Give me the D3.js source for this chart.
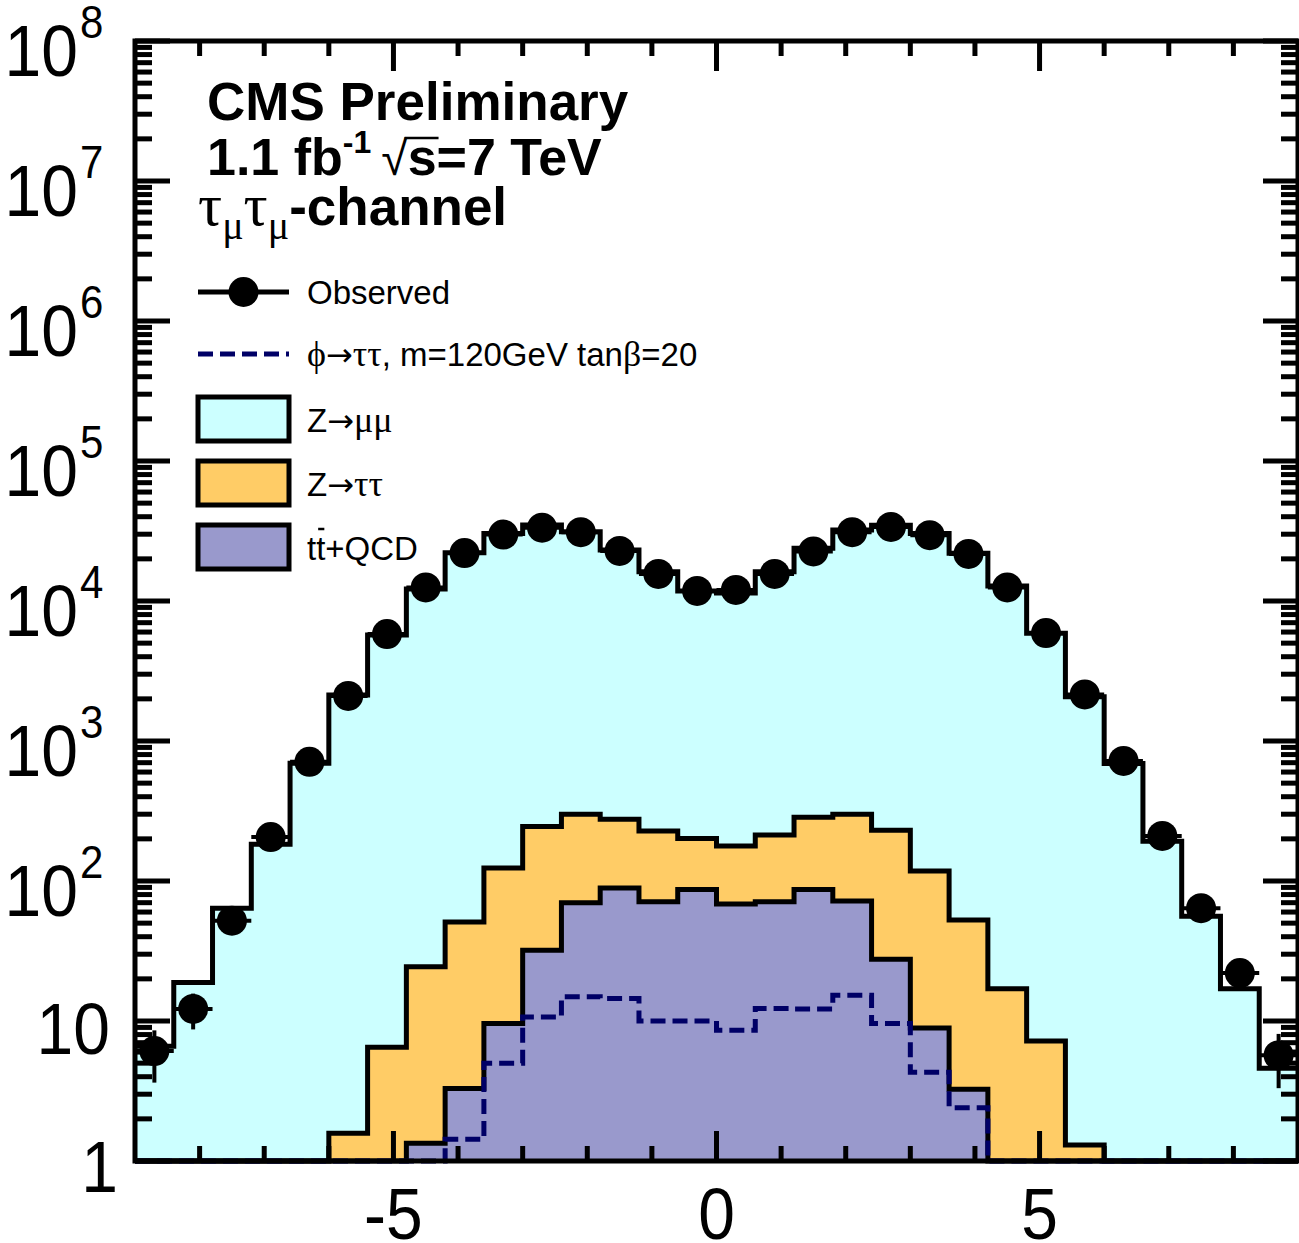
<!DOCTYPE html>
<html>
<head>
<meta charset="utf-8">
<script src="https://cdn.jsdelivr.net/npm/d3@7"></script>
<style>
  body { margin: 0; background: #fff; }
  text { font-family: "Liberation Sans", Arial, sans-serif; }
</style>
</head>
<body>
<div id="chart"></div>
<script>
// 30 bins from -9 to 9
var xMin = -9, xMax = 9, nBins = 30;

// observed events per bin
var observed = [6.1, 12.2, 52, 206, 710, 2100, 5800, 12500, 22000, 29800,
                33400, 31000, 22800, 15600, 11800, 12000, 15600, 22600, 31000, 33800,
                29500, 21700, 12500, 5900, 2150, 720, 210, 64, 22, 5.7];

// stacked backgrounds (per component, not cumulative)
var zmumu = [6.6, 18.8, 64, 183, 694, 2128, 5704, 12176, 22050, 30280,
             34650, 30900, 22820, 15970, 11600, 11220, 15990, 23520, 31800, 34570,
             30280, 21850, 12780, 5873, 2069, 690, 192, 56, 17, 4.6];
var ztautau = [0, 0, 0, 0, 0, 1.58, 6.5, 23.1, 47.7, 114,
               213, 230, 187, 157, 114, 109.5, 142, 198, 228, 203,
               109, 49.5, 17, 7.2, 1.3, 0, 0, 0, 0, 0];
var ttQCD = [0, 0, 0, 0, 0, 0, 0, 1.34, 3.3, 9.6,
             32, 70, 89, 71, 87, 68.5, 71, 87, 72, 27.6,
             8.9, 3.25, 0, 0, 0, 0, 0, 0, 0, 0];

// phi -> tautau, m=120 GeV, tanb=20
var signal = [0, 0, 0, 0, 0, 0, 0, 0, 1.43, 5.0,
              10.7, 14.9, 14.5, 10.0, 10.0, 8.6, 12.3, 12.2, 15.3, 9.6,
              4.3, 2.4, 0, 0, 0, 0, 0, 0, 0, 0];

var yTickExponents = [0, 1, 2, 3, 4, 5, 6, 7, 8];
var xTickLabels = [-5, 0, 5];

var width = 1299, height = 1243;
var padLeft = 135, padRight = 1298, padTop = 41, padBottom = 1161;

var binEdges = d3.range(nBins + 1).map(function(i) { return xMin + i * (xMax - xMin) / nBins; });

var svg = d3.select("#chart").append("svg")
    .attr("width", width)
    .attr("height", height);

var x = d3.scaleLinear().domain([xMin, xMax]).range([padLeft, padRight]);
var y = d3.scaleLog().domain([1, 1e8]).range([padBottom, padTop]).clamp(true);

function yv(v) { return y(Math.max(v, 0.01)); }

// step points for a histogram
function stepPoints(vals) {
    var pts = [];
    vals.forEach(function(v, i) {
        pts.push([binEdges[i], v]);
        pts.push([binEdges[i + 1], v]);
    });
    return pts;
}

var line = d3.line().x(function(d) { return x(d[0]); }).y(function(d) { return yv(d[1]); });
var area = d3.area().x(function(d) { return x(d[0]); }).y0(padBottom).y1(function(d) { return yv(d[1]); });

// stack the backgrounds
var rows = d3.range(nBins).map(function(i) {
    return { ttQCD: ttQCD[i], ztautau: ztautau[i], zmumu: zmumu[i] };
});
var keys = ["ttQCD", "ztautau", "zmumu"];
var colors = { ttQCD: "#9999cc", ztautau: "#ffcc66", zmumu: "#ccffff" };
var series = d3.stack().keys(keys)(rows);

var plot = svg.append("g");

series.slice().reverse().forEach(function(s) {
    var pts = stepPoints(s.map(function(d) { return d[1]; }));
    plot.append("path").attr("d", area(pts)).attr("fill", colors[s.key]);
    plot.append("path").attr("d", line(pts))
        .attr("fill", "none").attr("stroke", "#000").attr("stroke-width", 5)
        .attr("stroke-linejoin", "miter");
});

// signal dashed
plot.append("path").attr("d", line(stepPoints(signal)))
    .attr("fill", "none").attr("stroke", "#000066").attr("stroke-width", 5)
    .attr("stroke-dasharray", "15,7");

// observed with error bars
var obs = plot.append("g");
observed.forEach(function(v, i) {
    var e = Math.sqrt(v);
    var cx = x((binEdges[i] + binEdges[i + 1]) / 2);
    obs.append("line")
        .attr("x1", x(binEdges[i])).attr("x2", x(binEdges[i + 1]))
        .attr("y1", yv(v)).attr("y2", yv(v))
        .attr("stroke", "#000").attr("stroke-width", 4);
    obs.append("line")
        .attr("x1", cx).attr("x2", cx)
        .attr("y1", yv(v - e)).attr("y2", yv(v + e))
        .attr("stroke", "#000").attr("stroke-width", 4);
});
obs.selectAll("circle").data(observed).enter().append("circle")
    .attr("cx", function(d, i) { return x((binEdges[i] + binEdges[i + 1]) / 2); })
    .attr("cy", function(d) { return yv(d); })
    .attr("r", 15)
    .attr("fill", "#000");

// frame + ticks
var axes = svg.append("g").attr("stroke", "#000").attr("stroke-width", 5);
axes.append("rect")
    .attr("x", padLeft).attr("y", padTop)
    .attr("width", padRight - padLeft).attr("height", padBottom - padTop)
    .attr("fill", "none");

var yMinor = [];
for (var k = 0; k < 8; k++) for (var m = 2; m <= 9; m++) yMinor.push(m * Math.pow(10, k));
var yMajor = yTickExponents.map(function(e) { return Math.pow(10, e); });

function yTick(v, len) {
    axes.append("line").attr("x1", padLeft).attr("x2", padLeft + len).attr("y1", y(v)).attr("y2", y(v));
    axes.append("line").attr("x1", padRight).attr("x2", padRight - len).attr("y1", y(v)).attr("y2", y(v));
}
yMajor.forEach(function(v) { yTick(v, 35); });
yMinor.forEach(function(v) { yTick(v, 17); });

function xTick(v, len) {
    axes.append("line").attr("x1", x(v)).attr("x2", x(v)).attr("y1", padBottom).attr("y2", padBottom - len);
    axes.append("line").attr("x1", x(v)).attr("x2", x(v)).attr("y1", padTop).attr("y2", padTop + len);
}
d3.range(-8, 9).forEach(function(v) {
    if (xTickLabels.indexOf(v) >= 0) xTick(v, 30); else xTick(v, 15);
});

// axis labels (slightly tall glyphs, as in the original)
var labels = svg.append("g").attr("fill", "#000");
function tallText(tx, ty, size, anchor, str) {
    labels.append("text")
        .attr("transform", "translate(" + tx + "," + ty + ") scale(1,1.1)")
        .attr("text-anchor", anchor).attr("font-size", size).text(str);
}
yTickExponents.forEach(function(e) {
    var ty = y(Math.pow(10, e));
    if (e === 0) {
        tallText(118, ty + 31, 66, "end", "1");
    } else if (e === 1) {
        tallText(110, ty + 33, 66, "end", "10");
    } else {
        tallText(78, ty + 35, 66, "end", "10");
        tallText(80, ty - 3, 42, "start", e);
    }
});
xTickLabels.forEach(function(v) {
    tallText(x(v), 1239, 66, "middle", v);
});

// rich text helper: pieces flow as tspans
var serif = "'Liberation Serif', 'DejaVu Serif', serif";
var arrowFont = "'DejaVu Sans', sans-serif";
function rich(g, x0, y0, size, pieces) {
    var t = g.append("text").attr("x", x0).attr("y", y0).attr("font-size", size);
    pieces.forEach(function(p) {
        var s = t.append("tspan").text(p.t);
        if (p.serif) s.attr("font-family", serif).attr("font-weight", "normal");
        if (p.arrow) s.attr("font-family", arrowFont).attr("font-weight", "normal");
        if (p.bold) s.attr("font-weight", "bold");
        if (p.size) s.attr("font-size", p.size);
        if (p.dy) s.attr("dy", p.dy);
        if (p.dx) s.attr("dx", p.dx);
    });
    return t;
}

var head = svg.append("g");
rich(head, 207, 120, 53, [{ t: "CMS Preliminary", bold: true }]);
var l2 = rich(head, 207, 175, 52, [
    { t: "1.1 fb", bold: true },
    { t: "-1", bold: true, size: 32, dy: -22 },
    { t: "\u221A", size: 48, dy: 22, dx: 10 },
    { t: "s=7 TeV", bold: true }
]);
rich(head, 198, 225, 53, [
    { t: "\u03C4", serif: true, size: 60 },
    { t: "\u03BC", serif: true, size: 40, dy: 14 },
    { t: "\u03C4", serif: true, size: 60, dy: -14 },
    { t: "\u03BC", serif: true, size: 40, dy: 14 },
    { t: "-channel", bold: true, dy: -14 }
]);
// overline over the s under the root sign
var node2 = l2.node();
var sIdx = "1.1 fb-1\u221A".length;
var sBox = node2.getExtentOfChar(sIdx);
var rBox = node2.getExtentOfChar(sIdx - 1);
head.append("line")
    .attr("x1", rBox.x + rBox.width - 3).attr("x2", sBox.x + sBox.width + 2)
    .attr("y1", 138).attr("y2", 138)
    .attr("stroke", "#000").attr("stroke-width", 2.5);

// legend
var leg = svg.append("g");
var lx0 = 198, lx1 = 289, tx = 307, ls = 33;
leg.append("line").attr("x1", lx0).attr("x2", lx1).attr("y1", 292).attr("y2", 292)
    .attr("stroke", "#000").attr("stroke-width", 5);
leg.append("circle").attr("cx", (lx0 + lx1) / 2).attr("cy", 292).attr("r", 15).attr("fill", "#000");
rich(leg, tx, 304, ls, [{ t: "Observed" }]);

leg.append("line").attr("x1", lx0).attr("x2", lx1).attr("y1", 354).attr("y2", 354)
    .attr("stroke", "#000066").attr("stroke-width", 5).attr("stroke-dasharray", "15,7");
rich(leg, tx, 366, ls, [
    { t: "\u03D5", serif: true, size: 36 },
    { t: "\u2192", arrow: true, size: 32 },
    { t: "\u03C4\u03C4", serif: true, size: 36 },
    { t: ", m=120GeV tan" },
    { t: "\u03B2", serif: true, size: 36 },
    { t: "=20" }
]);

var boxes = [
    { key: "zmumu", y: 397, label: [{ t: "Z" }, { t: "\u2192", arrow: true, size: 32 }, { t: "\u03BC\u03BC", serif: true, size: 36 }] },
    { key: "ztautau", y: 461, label: [{ t: "Z" }, { t: "\u2192", arrow: true, size: 32 }, { t: "\u03C4\u03C4", serif: true, size: 36 }] },
    { key: "ttQCD", y: 525, label: [{ t: "tt+QCD" }] }
];
boxes.forEach(function(b) {
    leg.append("rect").attr("x", lx0).attr("y", b.y).attr("width", lx1 - lx0).attr("height", 44)
        .attr("fill", colors[b.key]).attr("stroke", "#000").attr("stroke-width", 5);
    var t = rich(leg, tx, b.y + 35, ls, b.label);
    if (b.key === "ttQCD") {
        var c = t.node().getExtentOfChar(1);
        leg.append("line")
            .attr("x1", c.x + 2).attr("x2", c.x + c.width - 1)
            .attr("y1", b.y + 4).attr("y2", b.y + 4)
            .attr("stroke", "#000").attr("stroke-width", 2.5);
    }
});
</script>
</body>
</html>
